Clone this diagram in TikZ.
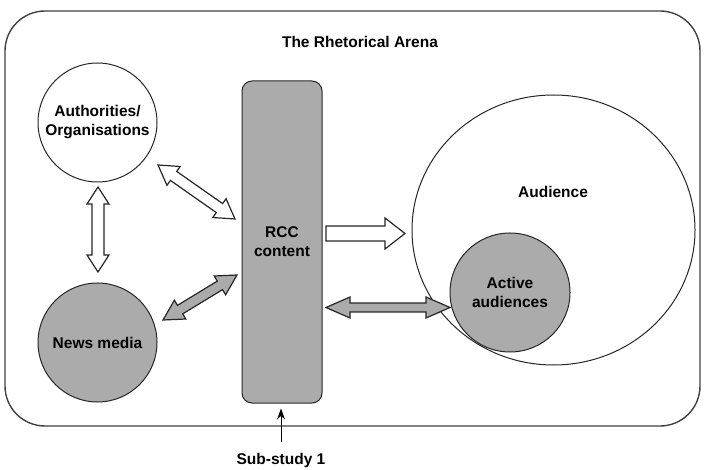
\documentclass[tikz,border=0pt]{standalone}
\usepackage{fontspec}
\setmainfont{Liberation Sans}
\usetikzlibrary{calc,shapes.geometric,arrows.meta}
\definecolor{boxgray}{HTML}{ABABAB}
\definecolor{edge}{HTML}{262626}
% double-headed block arrow: style, end A, end B, shaft half width, head half width, head length
\newcommand\dblblock[6]{%
 \filldraw[#1] (#2) -- ($(#2)!#6!(#3)!#5!90:(#3)$) -- ($(#2)!#6!(#3)!#4!90:(#3)$)
 -- ($(#3)!#6!(#2)!#4!-90:(#2)$) -- ($(#3)!#6!(#2)!#5!-90:(#2)$) -- (#3)
 -- ($(#3)!#6!(#2)!#5!90:(#2)$) -- ($(#3)!#6!(#2)!#4!90:(#2)$)
 -- ($(#2)!#6!(#3)!#4!-90:(#3)$) -- ($(#2)!#6!(#3)!#5!-90:(#3)$) -- cycle;}
% single block arrow: style, tail, tip, shaft half width, head half width, head length
\newcommand\oneblock[6]{%
 \filldraw[#1] ($(#2)!#4!90:(#3)$) -- ($(#3)!#6!(#2)!#4!-90:(#2)$) -- ($(#3)!#6!(#2)!#5!-90:(#2)$)
 -- (#3) -- ($(#3)!#6!(#2)!#5!90:(#2)$) -- ($(#3)!#6!(#2)!#4!90:(#2)$)
 -- ($(#2)!#4!-90:(#3)$) -- cycle;}
\tikzset{
  arena/.style={draw=black!75, line width=1.4pt, rounded corners=40pt, inner sep=0pt},
  actor/.style={ellipse, draw=edge, line width=1pt, inner sep=0pt},
  grayfill/.style={fill=boxgray},
  contentbox/.style={draw=edge, line width=1pt, fill=boxgray, rounded corners=10pt, inner sep=0pt, align=center},
  whitearrow/.style={draw=edge, line width=1.2pt, fill=white, line join=miter},
  grayarrow/.style={draw=edge, line width=1.2pt, fill=boxgray, line join=miter},
  txt/.style={align=center, inner sep=0pt}
}
\begin{document}
\begin{tikzpicture}[x=1pt, y=-1pt, font=\bfseries\fontsize{15.5}{19}\selectfont]
\useasboundingbox (0,0) rectangle (704,470);
\node[arena, minimum width=695pt, minimum height=415pt] (arena) at (352.5,218.5) {};
\node[txt] (title) at (360,42) {The Rhetorical Arena};

\node[actor, minimum width=119pt, minimum height=119pt] (auth) at (97.5,122.5) {};
\node[txt] (authtxt) at (auth.center) {Authorities/\\Organisations};
\node[actor, grayfill, minimum width=119pt, minimum height=119pt] (news) at (97.5,342.5) {};
\node[txt] (newstxt) at (news.center) {News media};
\node[contentbox, minimum width=80pt, minimum height=322pt] (rcc) at (282,242) {RCC\\content};
\node[actor, grayfill, minimum width=120pt, minimum height=119pt] (active) at (510,292.5) {};
\node[txt] (activetxt) at (active.center) {Active\\audiences};
\node[actor, minimum width=283pt, minimum height=270pt] (aud) at (553.5,230) {};
\node[txt] (audtxt) at (553,192) {Audience};

\node[txt] (sub) at (281,460) {Sub-study 1};
\coordinate (subtail) at (281,442);
\draw[line width=1pt, -{Stealth[length=11pt,width=8pt]}] (subtail) -- ($(rcc.south)+(-1,5)$);

% connectors
\coordinate (v1) at (98,187);
\coordinate (v2) at (98,272);
\dblblock{whitearrow}{v1}{v2}{6pt}{11pt}{17pt}

\coordinate (d1) at (158,165);
\coordinate (d2) at (235,219);
\dblblock{whitearrow}{d1}{d2}{5.5pt}{11.5pt}{19pt}

\coordinate (g1) at (163,320);
\coordinate (g2) at (237,275);
\dblblock{grayarrow}{g1}{g2}{5pt}{11pt}{20pt}

\coordinate (w1) at (326,233.5);
\coordinate (w2) at (405,233.5);
\oneblock{whitearrow}{w1}{w2}{7.5pt}{15.5pt}{20pt}

\coordinate (h1) at (326,307.5);
\coordinate (h2) at (450,307.5);
\dblblock{grayarrow}{h1}{h2}{4.5pt}{10.5pt}{24pt}
\end{tikzpicture}
\end{document}
